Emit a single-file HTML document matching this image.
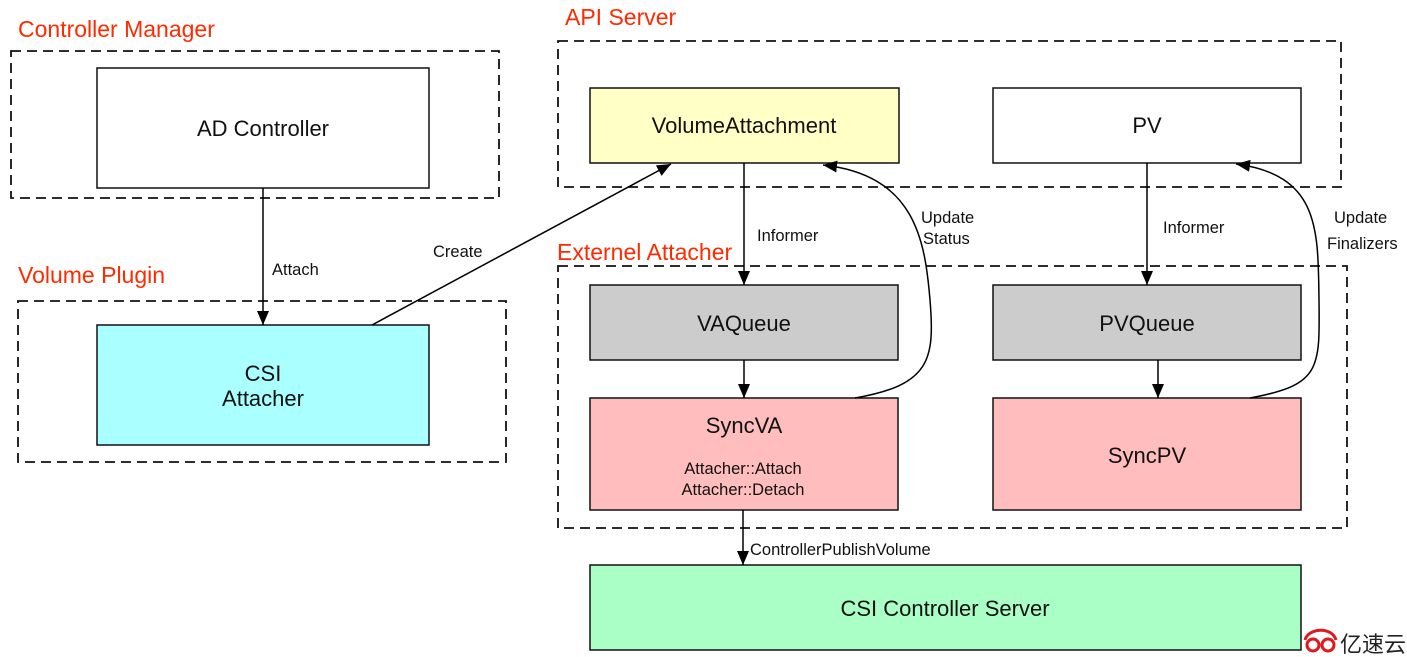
<!DOCTYPE html>
<html><head><meta charset="utf-8"><style>
html,body{margin:0;padding:0;background:#fff;width:1407px;height:657px;overflow:hidden}
svg text{font-family:"Liberation Sans",Arial,sans-serif}
</style></head><body>
<svg width="1407" height="657" viewBox="0 0 1407 657" xmlns="http://www.w3.org/2000/svg">
<defs>
<marker id="a" viewBox="0 0 14 12" refX="14" refY="6" markerWidth="14" markerHeight="12" markerUnits="userSpaceOnUse" orient="auto">
<path d="M0,0 L14,6 L0,12 z" fill="#000"/></marker>
</defs>
<g fill="none" stroke="#111" stroke-width="1.8" stroke-dasharray="10,6">
<rect x="11" y="51" width="488" height="147"/>
<rect x="18" y="301" width="488" height="161"/>
<rect x="558" y="41" width="783" height="146"/>
<rect x="558" y="266" width="789" height="262"/>
</g>
<g font-size="23" fill="#ff2a00">
<text x="18" y="37">Controller Manager</text>
<text x="18" y="283">Volume Plugin</text>
<text x="565" y="25">API Server</text>
<text x="557" y="260">Externel Attacher</text>
</g>
<g stroke="#111" stroke-width="1.5">
<rect x="97" y="68" width="332" height="120" fill="#fff"/>
<rect x="97" y="325" width="332" height="120" fill="#aaffff"/>
<rect x="590" y="88" width="309" height="75" fill="#ffffc6"/>
<rect x="993" y="88" width="308" height="75" fill="#fff"/>
<rect x="590" y="285" width="308" height="75" fill="#cccccc"/>
<rect x="993" y="285" width="308" height="75" fill="#cccccc"/>
<rect x="590" y="398" width="308" height="112" fill="#ffbdbd"/>
<rect x="993" y="398" width="308" height="112" fill="#ffbdbd"/>
<rect x="590" y="565" width="711" height="85" fill="#aaffc6"/>
</g>
<g font-size="22" fill="#111" text-anchor="middle">
<text x="263" y="136">AD Controller</text>
<text x="263" y="381">CSI</text>
<text x="263" y="406">Attacher</text>
<text x="744" y="133">VolumeAttachment</text>
<text x="1147" y="133">PV</text>
<text x="744" y="331">VAQueue</text>
<text x="1147" y="331">PVQueue</text>
<text x="744" y="433">SyncVA</text>
<text x="1147" y="463">SyncPV</text>
<text x="945" y="616">CSI Controller Server</text>
</g>
<g font-size="16.5" fill="#111" text-anchor="middle">
<text x="743" y="474">Attacher::Attach</text>
<text x="743" y="495">Attacher::Detach</text>
</g>
<g stroke="#000" stroke-width="1.5" fill="none">
<line x1="263" y1="188" x2="263" y2="325" marker-end="url(#a)"/>
<line x1="372" y1="325" x2="671" y2="164" marker-end="url(#a)"/>
<line x1="744" y1="163" x2="744" y2="285" marker-end="url(#a)"/>
<line x1="1147" y1="163" x2="1147" y2="285" marker-end="url(#a)"/>
<line x1="744" y1="360" x2="744" y2="398" marker-end="url(#a)"/>
<line x1="1158" y1="360" x2="1158" y2="398" marker-end="url(#a)"/>
<line x1="743" y1="510" x2="743" y2="565" marker-end="url(#a)"/>
<path d="M855,398 C930,385 935,360 930,300 C925,240 915,175 823,165" marker-end="url(#a)"/>
<path d="M1250,398 C1320,385 1320,370 1319,300 C1318,230 1320,175 1236,164" marker-end="url(#a)"/>
</g>
<g font-size="16.5" fill="#111">
<text x="272" y="275">Attach</text>
<text x="433" y="257">Create</text>
<text x="757" y="241">Informer</text>
<text x="1163" y="233">Informer</text>
<text x="921" y="223">Update</text>
<text x="923" y="244">Status</text>
<text x="1334" y="223">Update</text>
<text x="1327" y="249">Finalizers</text>
<text x="750" y="555">ControllerPublishVolume</text>
</g>
<g fill="none" stroke="#e0191e" stroke-width="3">
<circle cx="1313" cy="645" r="6"/><circle cx="1328" cy="645" r="6"/>
<path d="M1305,640 C1308,628 1332,626 1336,640"/>
</g>
<text x="1340" y="652" font-size="22" fill="#222" font-family="'Liberation Sans','Noto Sans CJK SC',sans-serif">亿速云</text>
</svg>
</body></html>
